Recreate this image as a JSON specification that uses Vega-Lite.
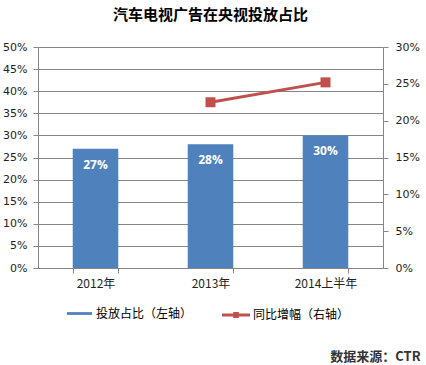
{
  "$schema": "https://vega.github.io/schema/vega-lite/v6.json",
  "width": 345,
  "height": 221,
  "autosize": "none",
  "padding": {"left": 38, "top": 47, "right": 43, "bottom": 97},
  "background": "white",
  "config": {"view": {"stroke": null}},
  "title": {
    "text": "汽车电视广告在央视投放占比",
    "font": "Noto Sans CJK SC",
    "fontSize": 15,
    "fontWeight": "bold",
    "color": "#000000",
    "frame": "group",
    "anchor": "middle",
    "offset": 18
  },
  "data": {
    "values": [
      {"year": "2012年", "share": 0.27, "growth": null},
      {"year": "2013年", "share": 0.28, "growth": 0.225},
      {"year": "2014上半年", "share": 0.30, "growth": 0.252}
    ]
  },
  "encoding": {
    "x": {
      "field": "year",
      "type": "nominal",
      "sort": null,
      "scale": {"paddingInner": 0.604, "paddingOuter": 0.302},
      "axis": {
        "title": "数据来源：CTR",
        "titleFont": "Noto Sans CJK SC",
        "titleFontSize": 13,
        "titleFontWeight": "bold",
        "titleColor": "#333333",
        "titleAnchor": "end",
        "titleAlign": "right",
        "titleBaseline": "middle",
        "titleX": 382,
        "titleY": 88,
        "labelAngle": 0,
        "labelFont": "Noto Sans CJK SC",
        "labelFontSize": 12,
        "labelColor": "#222222",
        "labelPadding": 5,
        "tickBand": "extent",
        "tickSize": 5,
        "tickColor": "#868686",
        "domainColor": "#868686",
        "grid": false
      }
    }
  },
  "layer": [
    {
      "encoding": {
        "y": {
          "field": "share",
          "type": "quantitative",
          "scale": {"domain": [0, 0.5], "nice": false},
          "axis": {
            "orient": "left",
            "title": null,
            "format": ".0%",
            "values": [0, 0.05, 0.1, 0.15, 0.2, 0.25, 0.3, 0.35, 0.4, 0.45, 0.5],
            "grid": true,
            "gridColor": "#868686",
            "domainColor": "#868686",
            "tickColor": "#868686",
            "tickSize": 5,
            "labelPadding": 6,
            "labelFont": "DejaVu Sans",
            "labelFontSize": 11,
            "labelColor": "#222222"
          }
        }
      },
      "layer": [
        {
          "mark": {"type": "bar", "color": "#4F81BD"},
          "encoding": {
            "color": {
              "datum": "投放占比（左轴）",
              "scale": {"range": ["#4F81BD"]},
              "legend": {
                "orient": "none",
                "legendX": 29,
                "legendY": 254,
                "title": null,
                "padding": 0,
                "symbolType": "M-1,-0.11L1,-0.11L1,0.11L-1,0.11Z",
                "symbolSize": 625,
                "symbolStrokeWidth": 0,
                "labelOffset": 4,
                "labelFont": "Noto Sans CJK SC",
                "labelFontSize": 12,
                "labelColor": "#000000"
              }
            }
          }
        },
        {
          "mark": {
            "type": "text",
            "color": "white",
            "font": "Open Sans",
            "fontWeight": "bold",
            "fontSize": 12,
            "baseline": "middle",
            "dy": 16
          },
          "encoding": {
            "text": {"field": "share", "type": "quantitative", "format": ".0%"}
          }
        }
      ]
    },
    {
      "encoding": {
        "y": {
          "field": "growth",
          "type": "quantitative",
          "scale": {"domain": [0, 0.3], "nice": false},
          "axis": {
            "orient": "right",
            "title": null,
            "format": ".0%",
            "values": [0, 0.05, 0.1, 0.15, 0.2, 0.25, 0.3],
            "grid": false,
            "domainColor": "#868686",
            "tickColor": "#868686",
            "tickSize": 5,
            "labelPadding": 7,
            "labelFont": "DejaVu Sans",
            "labelFontSize": 11,
            "labelColor": "#222222"
          }
        }
      },
      "layer": [
        {
          "mark": {"type": "line", "color": "#C0504D", "strokeWidth": 3}
        },
        {
          "mark": {"type": "point", "shape": "square", "filled": true, "size": 100, "opacity": 1},
          "encoding": {
            "color": {
              "datum": "同比增幅（右轴）",
              "scale": {"range": ["#C0504D"]},
              "legend": {
                "orient": "none",
                "legendX": 184,
                "legendY": 254,
                "title": null,
                "padding": 0,
                "symbolType": "M-1,-0.1L-0.2,-0.1L-0.2,-0.22L0.2,-0.22L0.2,-0.1L1,-0.1L1,0.1L0.2,0.1L0.2,0.22L-0.2,0.22L-0.2,0.1L-1,0.1Z",
                "symbolSize": 784,
                "symbolStrokeWidth": 0,
                "symbolOpacity": 1,
                "labelOffset": 3,
                "labelFont": "Noto Sans CJK SC",
                "labelFontSize": 12,
                "labelColor": "#000000"
              }
            }
          }
        }
      ]
    }
  ],
  "resolve": {"scale": {"y": "independent", "color": "independent"}}
}
